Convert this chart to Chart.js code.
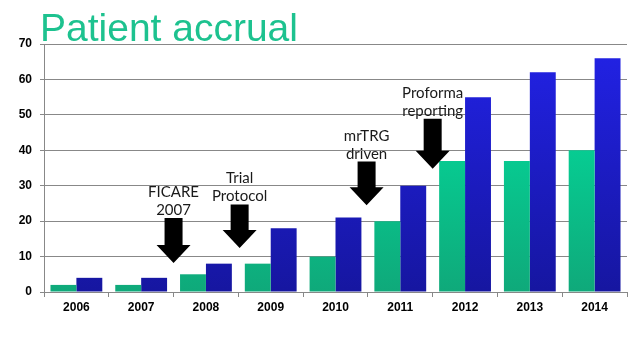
<!DOCTYPE html>
<html>
<head>
<meta charset="utf-8">
<script src="https://cdn.jsdelivr.net/npm/chart.js@4"></script>
<style>
html,body{margin:0;padding:0;background:#fff;}
#wrap{position:relative;width:638px;height:359px;}
#title{position:absolute;left:40px;top:6px;font-family:"Liberation Sans",Arial,sans-serif;font-size:39px;color:#1dc28f;line-height:44px;z-index:2;white-space:nowrap;}
canvas{position:absolute;left:0;top:0;}
</style>
</head>
<body>
<div id="wrap">
<canvas id="c" width="638" height="359"></canvas>
<div id="title">Patient accrual</div>
</div>
<script>
const categories = ["2006","2007","2008","2009","2010","2011","2012","2013","2014"];
const seriesGreen = [2, 2, 5, 8, 10, 20, 37, 37, 40];
const seriesBlue  = [4, 4, 8, 18, 21, 30, 55, 62, 66];
const yTicks = [0, 10, 20, 30, 40, 50, 60, 70];
// annotations: label lines, category position, arrow shaft top value, arrow tip value
const annotLabels = [["FICARE","2007"],["Trial","Protocol"],["mrTRG","driven"],["Proforma","reporting"]];
const annotPos = [1.5, 2.52, 4.48, 5.5];
const annotTop = [20.9, 24.7, 36.8, 48.9];
const annotTip = [8.2, 12.4, 24.5, 34.8];

function grad(ctx, top, bottom) {
  const chart = ctx.chart;
  const a = chart.chartArea;
  if (!a) return top;
  const g = chart.ctx.createLinearGradient(0, a.top, 0, a.bottom);
  g.addColorStop(0, top);
  g.addColorStop(1, bottom);
  return g;
}

const arrowPlugin = {
  id: 'arrows',
  afterDatasetsDraw(chart) {
    const ctx = chart.ctx;
    const xs = chart.scales.x, ys = chart.scales.y;
    ctx.save();
    for (let i = 0; i < annotPos.length; i++) {
      const x0 = xs.getPixelForValue(0), x1 = xs.getPixelForValue(1);
      const cx = x0 + (x1 - x0) * annotPos[i];
      const yTop = ys.getPixelForValue(annotTop[i]);
      const yTip = ys.getPixelForValue(annotTip[i]);
      const headH = 18, shaftW = 9, headW = 17;
      ctx.fillStyle = '#000';
      ctx.beginPath();
      ctx.moveTo(cx - shaftW, yTop);
      ctx.lineTo(cx + shaftW, yTop);
      ctx.lineTo(cx + shaftW, yTip - headH);
      ctx.lineTo(cx + headW, yTip - headH);
      ctx.lineTo(cx, yTip);
      ctx.lineTo(cx - headW, yTip - headH);
      ctx.lineTo(cx - shaftW, yTip - headH);
      ctx.closePath();
      ctx.fill();
      ctx.fillStyle = '#1a1a1a';
      ctx.font = '15px Lato, "Noto Sans", sans-serif';
      ctx.textAlign = 'center';
      ctx.textBaseline = 'alphabetic';
      const lines = annotLabels[i];
      ctx.fillText(lines[1], cx, yTop - 3);
      ctx.fillText(lines[0], cx, yTop - 21);
    }
    ctx.restore();
  }
};

new Chart(document.getElementById('c'), {
  type: 'bar',
  data: {
    labels: categories,
    datasets: [
      { data: seriesGreen, backgroundColor: c => grad(c, '#00e6a4', '#0fa97a'), borderWidth: 0 },
      { data: seriesBlue, backgroundColor: c => grad(c, '#2222e6', '#1616a0'), borderWidth: 0 }
    ]
  },
  options: {
    responsive: false,
    animation: false,
    layout: { padding: { top: 44, right: 11, left: 0, bottom: 0 } },
    plugins: { legend: { display: false }, tooltip: { enabled: false }, title: { display: false } },
    datasets: { bar: { categoryPercentage: 0.8, barPercentage: 1.0 } },
    scales: {
      x: {
        grid: { offset: true, drawOnChartArea: false, drawTicks: true, tickLength: 5, color: '#888', lineWidth: 1 },
        border: { color: '#888', width: 1 },
        ticks: { color: '#000', font: { family: '"Liberation Sans", Arial, sans-serif', size: 12, weight: 'bold' }, padding: 3, maxRotation: 0 },
        afterFit(s) { s.height = 67; }
      },
      y: {
        min: 0, max: 70,
        afterBuildTicks(s) { s.ticks = yTicks.map(v => ({ value: v })); },
        grid: { color: '#888', lineWidth: 1, tickLength: 4, drawTicks: true },
        border: { color: '#888', width: 1 },
        ticks: { color: '#000', font: { family: '"Liberation Sans", Arial, sans-serif', size: 12, weight: 'bold' }, padding: 8 },
        afterFit(s) { s.width = 44; }
      }
    }
  },
  plugins: [arrowPlugin]
});
</script>
</body>
</html>
